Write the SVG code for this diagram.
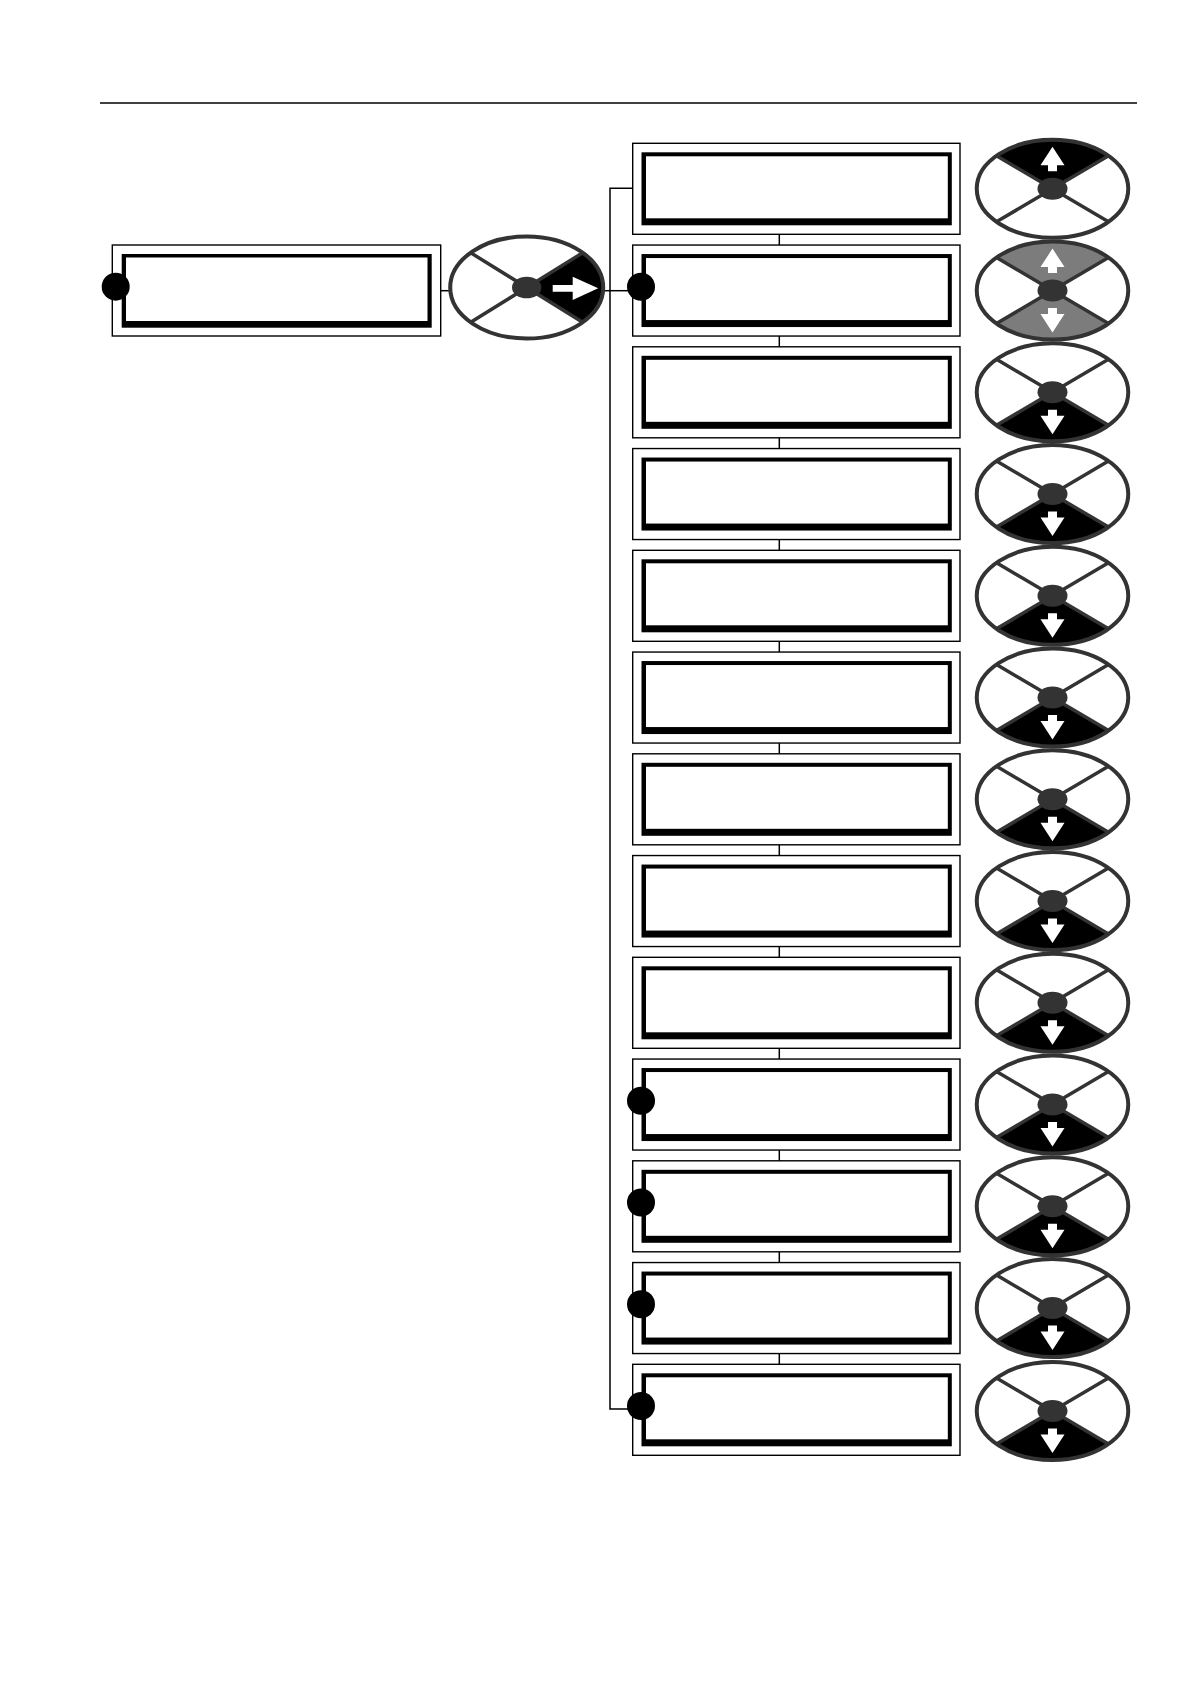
<svg xmlns="http://www.w3.org/2000/svg" xmlns:xlink="http://www.w3.org/1999/xlink" width="1190" height="1684" viewBox="0 0 1190 1684">
<style>
.outer{fill:#fff;stroke:#000;stroke-width:1.4}
.inner{fill:#000}
.win{fill:#fff}
.dot{fill:#000}
.conn{stroke:#000;stroke-width:1.5;fill:none}
.kbg{fill:#fff}
.kline{stroke:#333;fill:none}
.hub{fill:#333}
.arr{fill:#fff}
</style>
<defs>
<path id="secTop" d="M0,0 L-56,-33 A75.75,49 0 0 1 56,-33 Z"/>
<path id="secBot" d="M0,0 L-56,33 A75.75,49 0 0 0 56,33 Z"/>
<g id="frameR">
<ellipse cx="0" cy="0" rx="75.75" ry="49" class="kline" stroke-width="4"/>
<path d="M-56,-33 L56,33 M56,-33 L-56,33" class="kline" stroke-width="3.5"/>
<ellipse cx="0" cy="0" rx="15" ry="11" class="hub"/>
</g>
<polygon id="arrUp" points="0,-42 12,-23.5 4.5,-23.5 4.5,-17.5 -4.5,-17.5 -4.5,-23.5 -12,-23.5"/>
<polygon id="arrDown" points="0,42 12,23.5 4.5,23.5 4.5,17.5 -4.5,17.5 -4.5,23.5 -12,23.5"/>
</defs>
<rect x="0" y="0" width="1190" height="1684" fill="#fff"/>
<line x1="100" y1="103" x2="1137" y2="103" stroke="#000" stroke-width="1.4"/>

<g id="connectors">
<line class="conn" x1="440.7" y1="290.7" x2="450" y2="290.7"/>
<line class="conn" x1="603" y1="290.7" x2="628" y2="290.7"/>
<polyline class="conn" points="632.7,188.3 610,188.3 610,1409 628,1409"/>
<line class="conn" x1="779.3" y1="234.3" x2="779.3" y2="245.05"/>
<line class="conn" x1="779.3" y1="336.05" x2="779.3" y2="346.8"/>
<line class="conn" x1="779.3" y1="437.8" x2="779.3" y2="448.55"/>
<line class="conn" x1="779.3" y1="539.55" x2="779.3" y2="550.3"/>
<line class="conn" x1="779.3" y1="641.3" x2="779.3" y2="652.05"/>
<line class="conn" x1="779.3" y1="743.05" x2="779.3" y2="753.8"/>
<line class="conn" x1="779.3" y1="844.8" x2="779.3" y2="855.55"/>
<line class="conn" x1="779.3" y1="946.55" x2="779.3" y2="957.3"/>
<line class="conn" x1="779.3" y1="1048.3" x2="779.3" y2="1059.05"/>
<line class="conn" x1="779.3" y1="1150.05" x2="779.3" y2="1160.8"/>
<line class="conn" x1="779.3" y1="1251.8" x2="779.3" y2="1262.55"/>
<line class="conn" x1="779.3" y1="1353.55" x2="779.3" y2="1364.3"/>
</g>

<g id="leftBox">
<rect class="outer" x="112.3" y="245" width="328.4" height="91"/>
<rect class="inner" x="121.7" y="254" width="310" height="73.7"/>
<rect class="win" x="126" y="257.5" width="301.5" height="63.5"/>
<circle class="dot" cx="115.7" cy="286.7" r="14"/>
</g>

<g id="leftKnob" transform="translate(526.7,287.5)">
<ellipse class="kbg" cx="0" cy="0" rx="76.5" ry="51"/>
<path d="M0,0 L56,-34.7 A76.5,51 0 0 1 56,34.7 Z" fill="#000"/>
<ellipse cx="0" cy="0" rx="76.5" ry="51" class="kline" stroke-width="4"/>
<path d="M-56,-34.7 L56,34.7 M56,-34.7 L-56,34.7" class="kline" stroke-width="3.5"/>
<ellipse cx="0" cy="0" rx="14.7" ry="10.8" class="hub"/>
<polygon class="arr" points="26,-2.5 46,-2.5 46,-10.8 71.5,0.8 46,12.5 46,4.2 26,4.2"/>
</g>

<g id="box1"><rect class="outer" x="632.7" y="143.3" width="327.3" height="91"/><rect class="inner" x="641.5" y="152.3" width="310.3" height="73"/><rect class="win" x="646" y="156.3" width="301.8" height="62"/></g>
<g id="box2"><rect class="outer" x="632.7" y="245.05" width="327.3" height="91"/><rect class="inner" x="641.5" y="254.05" width="310.3" height="73"/><rect class="win" x="646" y="258.05" width="301.8" height="62"/><circle class="dot" cx="641" cy="286.75" r="14"/></g>
<g id="box3"><rect class="outer" x="632.7" y="346.8" width="327.3" height="91"/><rect class="inner" x="641.5" y="355.8" width="310.3" height="73"/><rect class="win" x="646" y="359.8" width="301.8" height="62"/></g>
<g id="box4"><rect class="outer" x="632.7" y="448.55" width="327.3" height="91"/><rect class="inner" x="641.5" y="457.55" width="310.3" height="73"/><rect class="win" x="646" y="461.55" width="301.8" height="62"/></g>
<g id="box5"><rect class="outer" x="632.7" y="550.3" width="327.3" height="91"/><rect class="inner" x="641.5" y="559.3" width="310.3" height="73"/><rect class="win" x="646" y="563.3" width="301.8" height="62"/></g>
<g id="box6"><rect class="outer" x="632.7" y="652.05" width="327.3" height="91"/><rect class="inner" x="641.5" y="661.05" width="310.3" height="73"/><rect class="win" x="646" y="665.05" width="301.8" height="62"/></g>
<g id="box7"><rect class="outer" x="632.7" y="753.8" width="327.3" height="91"/><rect class="inner" x="641.5" y="762.8" width="310.3" height="73"/><rect class="win" x="646" y="766.8" width="301.8" height="62"/></g>
<g id="box8"><rect class="outer" x="632.7" y="855.55" width="327.3" height="91"/><rect class="inner" x="641.5" y="864.55" width="310.3" height="73"/><rect class="win" x="646" y="868.55" width="301.8" height="62"/></g>
<g id="box9"><rect class="outer" x="632.7" y="957.3" width="327.3" height="91"/><rect class="inner" x="641.5" y="966.3" width="310.3" height="73"/><rect class="win" x="646" y="970.3" width="301.8" height="62"/></g>
<g id="box10"><rect class="outer" x="632.7" y="1059.05" width="327.3" height="91"/><rect class="inner" x="641.5" y="1068.05" width="310.3" height="73"/><rect class="win" x="646" y="1072.05" width="301.8" height="62"/><circle class="dot" cx="641" cy="1100.75" r="14"/></g>
<g id="box11"><rect class="outer" x="632.7" y="1160.8" width="327.3" height="91"/><rect class="inner" x="641.5" y="1169.8" width="310.3" height="73"/><rect class="win" x="646" y="1173.8" width="301.8" height="62"/><circle class="dot" cx="641" cy="1202.5" r="14"/></g>
<g id="box12"><rect class="outer" x="632.7" y="1262.55" width="327.3" height="91"/><rect class="inner" x="641.5" y="1271.55" width="310.3" height="73"/><rect class="win" x="646" y="1275.55" width="301.8" height="62"/><circle class="dot" cx="641" cy="1304.25" r="14"/></g>
<g id="box13"><rect class="outer" x="632.7" y="1364.3" width="327.3" height="91"/><rect class="inner" x="641.5" y="1373.3" width="310.3" height="73"/><rect class="win" x="646" y="1377.3" width="301.8" height="62"/><circle class="dot" cx="641" cy="1406" r="14"/></g>

<g id="knob1" transform="translate(1052.5,188.8)"><ellipse class="kbg" rx="75.75" ry="49"/><use xlink:href="#secTop" fill="#000"/><use xlink:href="#frameR"/><use xlink:href="#arrUp" class="arr"/></g>
<g id="knob2" transform="translate(1052.5,290.55)"><ellipse class="kbg" rx="75.75" ry="49"/><use xlink:href="#secTop" fill="#7c7c7c"/><use xlink:href="#secBot" fill="#7c7c7c"/><use xlink:href="#frameR"/><use xlink:href="#arrUp" class="arr"/><use xlink:href="#arrDown" class="arr"/></g>
<g id="knob3" transform="translate(1052.5,392.3)"><ellipse class="kbg" rx="75.75" ry="49"/><use xlink:href="#secBot" fill="#000"/><use xlink:href="#frameR"/><use xlink:href="#arrDown" class="arr"/></g>
<g id="knob4" transform="translate(1052.5,494.05)"><ellipse class="kbg" rx="75.75" ry="49"/><use xlink:href="#secBot" fill="#000"/><use xlink:href="#frameR"/><use xlink:href="#arrDown" class="arr"/></g>
<g id="knob5" transform="translate(1052.5,595.8)"><ellipse class="kbg" rx="75.75" ry="49"/><use xlink:href="#secBot" fill="#000"/><use xlink:href="#frameR"/><use xlink:href="#arrDown" class="arr"/></g>
<g id="knob6" transform="translate(1052.5,697.55)"><ellipse class="kbg" rx="75.75" ry="49"/><use xlink:href="#secBot" fill="#000"/><use xlink:href="#frameR"/><use xlink:href="#arrDown" class="arr"/></g>
<g id="knob7" transform="translate(1052.5,799.3)"><ellipse class="kbg" rx="75.75" ry="49"/><use xlink:href="#secBot" fill="#000"/><use xlink:href="#frameR"/><use xlink:href="#arrDown" class="arr"/></g>
<g id="knob8" transform="translate(1052.5,901.05)"><ellipse class="kbg" rx="75.75" ry="49"/><use xlink:href="#secBot" fill="#000"/><use xlink:href="#frameR"/><use xlink:href="#arrDown" class="arr"/></g>
<g id="knob9" transform="translate(1052.5,1002.8)"><ellipse class="kbg" rx="75.75" ry="49"/><use xlink:href="#secBot" fill="#000"/><use xlink:href="#frameR"/><use xlink:href="#arrDown" class="arr"/></g>
<g id="knob10" transform="translate(1052.5,1104.55)"><ellipse class="kbg" rx="75.75" ry="49"/><use xlink:href="#secBot" fill="#000"/><use xlink:href="#frameR"/><use xlink:href="#arrDown" class="arr"/></g>
<g id="knob11" transform="translate(1052.5,1206.3)"><ellipse class="kbg" rx="75.75" ry="49"/><use xlink:href="#secBot" fill="#000"/><use xlink:href="#frameR"/><use xlink:href="#arrDown" class="arr"/></g>
<g id="knob12" transform="translate(1052.5,1308.05)"><ellipse class="kbg" rx="75.75" ry="49"/><use xlink:href="#secBot" fill="#000"/><use xlink:href="#frameR"/><use xlink:href="#arrDown" class="arr"/></g>
<g id="knob13" transform="translate(1052.5,1411)"><ellipse class="kbg" rx="75.75" ry="49"/><use xlink:href="#secBot" fill="#000"/><use xlink:href="#frameR"/><use xlink:href="#arrDown" class="arr"/></g>
</svg>
